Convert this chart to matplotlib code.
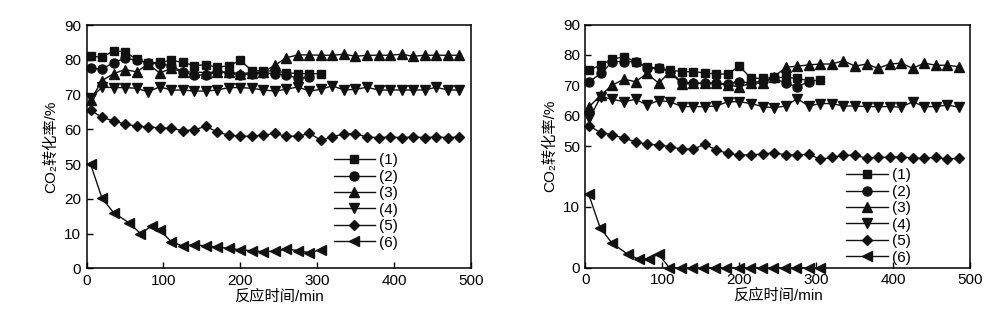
import numpy as np
import matplotlib
matplotlib.use("Agg")
import matplotlib.pyplot as plt

plt.rcParams['font.family'] = ['Liberation Sans', 'DejaVu Sans', 'Noto Sans CJK SC']

# ---------------- data: left panel ----------------
tL_short = [5, 20, 35, 50, 65, 80, 95, 110, 125, 140, 155, 170, 185, 200, 215, 230, 245, 260, 275, 290, 305]
tL_long = [5, 20, 35, 50, 65, 80, 95, 110, 125, 140, 155, 170, 185, 200, 215, 230, 245, 260, 275, 290,
           305, 320, 335, 350, 365, 380, 395, 410, 425, 440, 455, 470, 485]
tL6 = [5, 20, 35, 55, 70, 85, 95, 110, 125, 140, 155, 170, 185, 200, 215, 230, 245, 260, 275, 290, 305]

L1 = [81.1, 80.7, 82.6, 82.3, 80.1, 79.1, 79.3, 79.8, 79.3, 78.3, 78.6, 77.8, 78.3, 79.8, 76.9, 76.9, 76.7,
      76.3, 76.0, 76.0, 76.0]
L2 = [77.6, 77.3, 79.2, 80.4, 79.9, 79.1, 78.8, 78.3, 76.5, 75.6, 75.6, 76.5, 76.2, 75.6, 76.0, 76.2, 76.0,
      75.6, 74.7, 75.0]
L3 = [68.4, 74.0, 76.0, 77.2, 76.5, 78.8, 76.2, 77.5, 76.5, 76.5, 76.3, 76.5, 76.5, 76.0, 76.3, 76.5, 78.4,
      80.6, 81.4, 81.4, 81.3, 81.3, 81.6, 81.0, 81.3, 81.3, 81.3, 81.6, 81.0, 81.3, 81.3, 81.3, 81.3]
L4 = [69.0, 72.1, 72.0, 72.0, 71.8, 70.8, 72.2, 71.3, 71.3, 71.0, 71.0, 71.3, 72.0, 72.0, 71.8, 71.3, 71.0,
      71.5, 72.2, 71.0, 71.5, 72.5, 71.3, 71.5, 72.1, 71.3, 71.3, 71.3, 71.3, 71.3, 72.1, 71.3, 71.3]
L5 = [65.5, 63.4, 62.4, 61.5, 60.9, 60.7, 60.4, 60.3, 59.6, 59.8, 60.9, 59.2, 58.3, 58.0, 58.0, 58.3, 58.8,
      58.0, 58.0, 58.8, 56.9, 57.8, 58.7, 58.7, 57.8, 57.6, 57.8, 57.6, 57.8, 57.6, 57.8, 57.6, 57.8]
L6 = [50.0, 20.4, 16.0, 13.1, 10.0, 12.2, 11.0, 7.7, 6.4, 6.7, 6.5, 6.0, 5.8, 5.3, 5.1, 4.8, 4.9, 5.6, 5.1,
      4.5, 5.3]

# ---------------- data: right panel ----------------
tR_short = [5, 20, 35, 50, 65, 80, 95, 110, 125, 140, 155, 170, 185, 200, 215, 230, 245, 260, 275, 290, 305]
tR_long = [5, 20, 35, 50, 65, 80, 95, 110, 125, 140, 155, 170, 185, 200, 215, 230, 245, 260, 275, 290,
           305, 320, 335, 350, 365, 380, 395, 410, 425, 440, 455, 470, 485]
tR6 = [4, 19, 34, 55, 69, 82, 95, 109, 124, 139, 153, 168, 183, 199, 214, 229, 244, 259, 274, 290, 304]

R1 = [75.0, 76.7, 78.6, 79.4, 77.8, 76.1, 75.6, 75.0, 74.5, 74.5, 74.1, 73.7, 73.7, 76.3, 72.3, 72.3, 72.6,
      72.6, 72.3, 71.5, 71.7]
R2 = [71.2, 73.9, 77.8, 77.8, 77.8, 75.6, 75.6, 74.5, 71.0, 70.7, 70.7, 70.7, 70.4, 71.2, 70.7, 71.5, 72.3,
      70.7, 69.5, 71.2]
R3 = [63.0, 66.8, 70.1, 72.0, 71.2, 73.9, 70.7, 74.5, 70.4, 70.7, 70.7, 70.7, 70.1, 69.5, 70.7, 70.7, 72.8,
      75.9, 76.3, 76.7, 77.0, 77.0, 78.1, 76.3, 77.0, 75.6, 77.0, 77.3, 75.6, 77.3, 76.6, 76.6, 76.1]
R4 = [59.1, 66.3, 65.4, 64.6, 65.4, 63.5, 65.0, 64.6, 63.0, 63.0, 63.0, 63.2, 64.6, 64.6, 64.0, 63.0, 62.6,
      63.2, 65.6, 63.2, 64.0, 64.0, 63.2, 63.2, 63.0, 63.0, 63.0, 62.8, 64.6, 63.0, 63.0, 63.5, 62.8]
R5 = [56.6, 54.4, 53.7, 52.6, 51.4, 50.6, 50.4, 49.6, 48.0, 48.0, 50.6, 47.4, 45.2, 44.2, 44.2, 44.8, 45.6,
      44.2, 44.0, 44.8, 41.3, 42.6, 44.0, 44.0, 42.0, 42.6, 42.6, 43.0, 42.0, 42.0, 42.6, 41.5, 42.0]
R6 = [18.5, 6.6, 4.1, 2.2, 1.4, 1.5, 2.2, 0, 0, 0, 0, 0, 0, 0, 0, 0, 0, 0, 0, 0, 0]

labels = ['(1)', '(2)', '(3)', '(4)', '(5)', '(6)']
markers = ['s', 'o', '^', 'v', 'D', '<']
msizes = [6, 6.5, 6.8, 6.8, 5.3, 6.8]

yticksL = [0, 10, 20, 50, 60, 70, 80, 90]
yticksR = [0, 10, 50, 60, 70, 80, 90]
xticks = [0, 100, 200, 300, 400, 500]

# piecewise (broken) axis scales
L_from = [0, 20, 50, 90]
L_to = [0, 2, 3, 7]
R_from = [0, 10, 50, 90]
R_to = [0, 2, 4, 8]


def piecewise(x, xs, ys):
    x = np.asarray(x, dtype=float)
    xs = np.asarray(xs, dtype=float)
    ys = np.asarray(ys, dtype=float)
    out = np.interp(x, xs, ys)
    lo_slope = (ys[1] - ys[0]) / (xs[1] - xs[0])
    hi_slope = (ys[-1] - ys[-2]) / (xs[-1] - xs[-2])
    out = np.where(x < xs[0], ys[0] + (x - xs[0]) * lo_slope, out)
    out = np.where(x > xs[-1], ys[-1] + (x - xs[-1]) * hi_slope, out)
    return out


def make_scale(src, dst):
    def fwd(v):
        return piecewise(v, src, dst)

    def inv(u):
        return piecewise(u, dst, src)
    return fwd, inv


fig = plt.figure(figsize=(10.07, 3.25), dpi=100)
axL = fig.add_axes([0.0861, 0.1745, 0.3813, 0.7485])
axR = fig.add_axes([0.5814, 0.1763, 0.3823, 0.7483])

col = '#111111'


def draw(ax, series, times, scale, yticks, leg_anchor):
    ax.set_yscale('function', functions=scale)
    for (t, y), lab, m, ms in zip(zip(times, series), labels, markers, msizes):
        ax.plot(t, y, color=col, lw=1.0, marker=m, ms=ms, mfc=col, mec=col,
                label=lab, clip_on=False, zorder=3)
    ax.set_xlim(0, 500)
    ax.set_ylim(0, 90)
    ax.set_xticks(xticks)
    ax.set_yticks(yticks)
    ax.set_yticklabels([str(v) for v in yticks])
    ax.minorticks_off()
    ax.tick_params(direction='in', length=4, width=1, labelsize=11, pad=4,
                   top=False, right=False)
    for s in ax.spines.values():
        s.set_linewidth(1.1)
    ax.set_xlabel('反应时间/min', fontsize=11, labelpad=1)
    ax.set_ylabel('CO₂转化率/%', fontsize=11, labelpad=4)
    ax.legend(loc='upper left', bbox_to_anchor=leg_anchor, frameon=False,
              fontsize=11, handlelength=2.7, handletextpad=0.3,
              labelspacing=0.16, borderpad=0, borderaxespad=0)


draw(axL, [L1, L2, L3, L4, L5, L6], [tL_short, tL_short[:20], tL_long, tL_long, tL_long, tL6],
     make_scale(L_from, L_to), yticksL, (0.643, 0.472))
draw(axR, [R1, R2, R3, R4, R5, R6], [tR_short, tR_short[:20], tR_long, tR_long, tR_long, tR6],
     make_scale(R_from, R_to), yticksR, (0.678, 0.408))

fig.savefig('out.png', dpi=100)
